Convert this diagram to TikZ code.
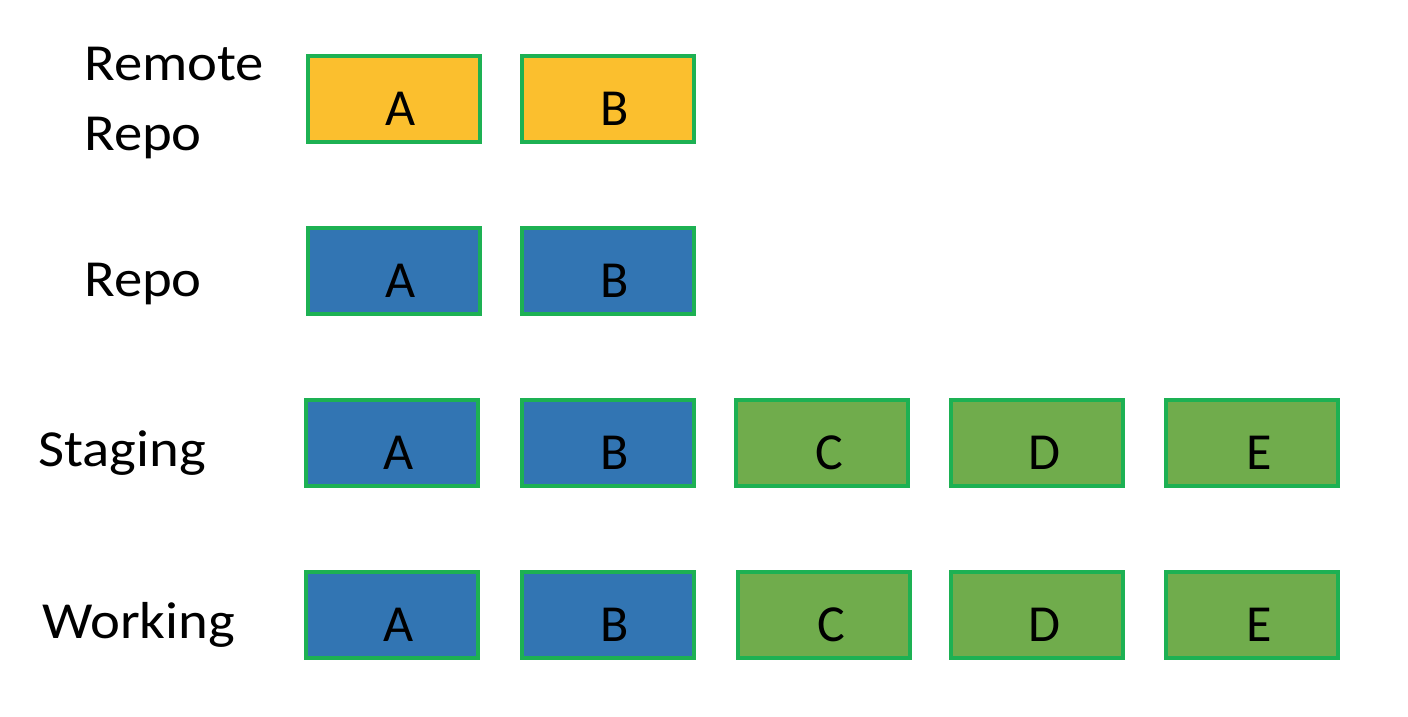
\documentclass[tikz,border=0pt]{standalone}
\usepackage{fontspec}
\setmainfont{Carlito}
\newfontfamily\labelfont[FakeStretch=1.09]{Carlito}
\definecolor{bordergreen}{HTML}{1DB153}
\definecolor{remotefill}{HTML}{FBBF2E}
\definecolor{repofill}{HTML}{3275B3}
\definecolor{newfill}{HTML}{70AC4C}
\tikzset{
  cbox/.style={draw=bordergreen, line width=4pt, minimum width=172pt, minimum height=86pt, inner sep=0pt, anchor=center},
  remotebox/.style={cbox, fill=remotefill},
  repobox/.style={cbox, fill=repofill},
  newbox/.style={cbox, fill=newfill},
  letter/.style={anchor=base, inner sep=0pt, font=\fontsize{52}{60}\selectfont},
  rowlabel/.style={anchor=base west, inner sep=0pt, font=\labelfont\fontsize{52}{60}\selectfont}
}
\begin{document}
\begin{tikzpicture}[x=1pt, y=-1pt]
\useasboundingbox (0,0) rectangle (1408,716);
% row labels
\node[rowlabel] (lremote) at (84,80) {Remote};
\node[rowlabel] (lremote2) at (84,150) {Repo};
\node[rowlabel] (lrepo) at (84,296) {Repo};
\node[rowlabel] (lstaging) at (38,466) {Staging};
\node[rowlabel] (lworking) at (42,638) {Working};
% row 1 remote
\node[remotebox] (r1a) at (394,99) {};
\node[remotebox] (r1b) at (608,99) {};
% row 2 repo
\node[repobox] (r2a) at (394,271) {};
\node[repobox] (r2b) at (608,271) {};
% row 3 staging
\node[repobox] (r3a) at (392,443) {};
\node[repobox] (r3b) at (608,443) {};
\node[newbox] (r3c) at (822,443) {};
\node[newbox] (r3d) at (1037,443) {};
\node[newbox] (r3e) at (1252,443) {};
% row 4 working
\node[repobox] (r4a) at (392,615) {};
\node[repobox] (r4b) at (608,615) {};
\node[newbox] (r4c) at (824,615) {};
\node[newbox] (r4d) at (1037,615) {};
\node[newbox] (r4e) at (1252,615) {};
% letters
\foreach \n/\t in {r1a/A,r1b/B,r2a/A,r2b/B,r3a/A,r3b/B,r3c/C,r3d/D,r3e/E,r4a/A,r4b/B,r4c/C,r4d/D,r4e/E}{
  \node[letter] (t\n) at ([xshift=7pt,yshift=19pt]\n.south) {\t};
}
\end{tikzpicture}
\end{document}
